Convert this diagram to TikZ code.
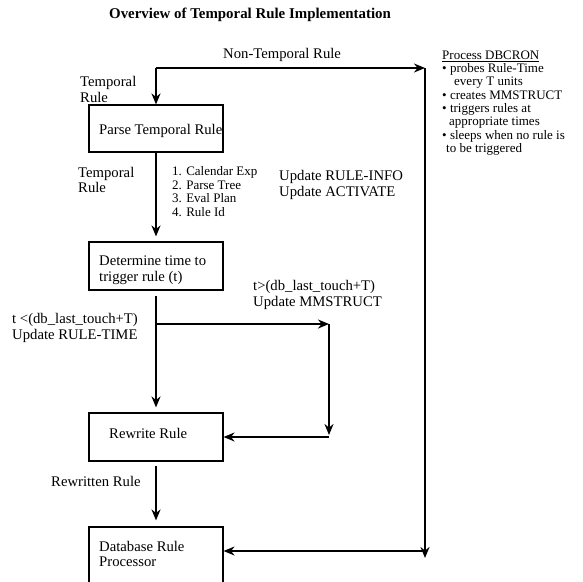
\documentclass[tikz,border=0pt]{standalone}
\usepackage{fontspec}
\setmainfont{Liberation Serif}
\usetikzlibrary{arrows.meta}
\begin{document}
\begin{tikzpicture}[x=1pt,y=-1pt,
  lbl/.style={font=\fontsize{14.7}{15.5}\selectfont, inner sep=0pt, align=left, anchor=west},
  small/.style={font=\fontsize{13}{13.5}\selectfont, inner sep=0pt, align=left, anchor=west},
  proc/.style={font=\fontsize{13}{13.3}\selectfont, inner sep=0pt, align=left, anchor=north west},
  box/.style={draw, line width=1.1pt, minimum width=134pt, minimum height=47pt, inner sep=0pt},
  flow/.style={line width=2pt, -{Stealth[length=11pt,width=9pt,inset=3.5pt]}},
  thinflow/.style={line width=1.3pt, -{Stealth[length=11pt,width=9pt,inset=3.5pt]}},
]
\useasboundingbox (0,0) rectangle (583,581);

% title
\node[font=\fontsize{14.9}{16}\selectfont\bfseries, anchor=west, inner sep=0pt] (title) at (109,15) {Overview of Temporal Rule Implementation};

% boxes
\node[box] (parse) at (156,128.5) {};
\node[box, minimum height=48pt] (det) at (156,266) {};
\node[box, minimum height=48pt] (rew) at (156,437) {};
\node[box, minimum height=80pt] (db) at (156,567) {};

% box texts
\node[lbl] (parset) at (99,131) {Parse Temporal Rule};
\node[lbl] (dett) at (99,270) {Determine time to\\trigger rule (t)};
\node[lbl] (rewt) at (109,433) {Rewrite Rule};
\node[lbl] (dbt) at (99,554) {Database Rule\\Processor};

% labels
\node[lbl] (ntr) at (223,55) {Non-Temporal Rule};
\node[lbl] (tr1) at (80,89.5) {Temporal\\Rule};
\node[lbl] (tr2) at (78,180) {Temporal\\Rule};
\node[small] (list) at (172,191.5) {1. Calendar Exp\\2. Parse Tree\\3. Eval Plan\\4. Rule Id};
\node[lbl] (upd) at (279,185) {Update RULE-INFO\\Update ACTIVATE};
\node[lbl] (gt) at (253,295) {t>(db\_last\_touch+T)\\Update MMSTRUCT};
\node[lbl] (lt) at (12,328) {t <(db\_last\_touch+T)\\Update RULE-TIME};
\node[lbl] (rwr) at (51,481) {Rewritten Rule};

\node[proc] (dbcron) at (442,50.5) {\underline{Process DBCRON}\\
• probes Rule-Time\\
\hspace*{12pt}every T units\\
• creates MMSTRUCT\\
• triggers rules at\\
\hspace*{7pt}appropriate times\\
• sleeps when no rule is\\
\hspace*{4pt}to be triggered};

% connector points
\coordinate (tl) at (156,68);
\coordinate (tr) at (425,68);
\coordinate (br) at (425,558);
\coordinate (bj) at (425,551);
\coordinate (fork) at (156,324);
\coordinate (mr) at (329,324);
\coordinate (mb) at (329,435);
\coordinate (mj) at (329,437);

% connectors
\draw[flow] (tl) -- (parse.north);
\draw[flow] (tl) -- (tr);
\draw[flow] (tr) -- (br);
\draw[thinflow] (bj) -- (bj -| db.east);
\draw[flow, shorten >=5pt] (parse.south) -- (det.north);
\draw[flow, shorten <=5pt, shorten >=5pt] (det.south) -- (rew.north);
\draw[flow] (fork) -- (mr);
\draw[flow] (mr) -- (mb);
\draw[thinflow] (mj) -- (mj -| rew.east);
\draw[flow, shorten <=4pt, shorten >=6pt] (rew.south) -- (db.north);
\end{tikzpicture}
\end{document}
